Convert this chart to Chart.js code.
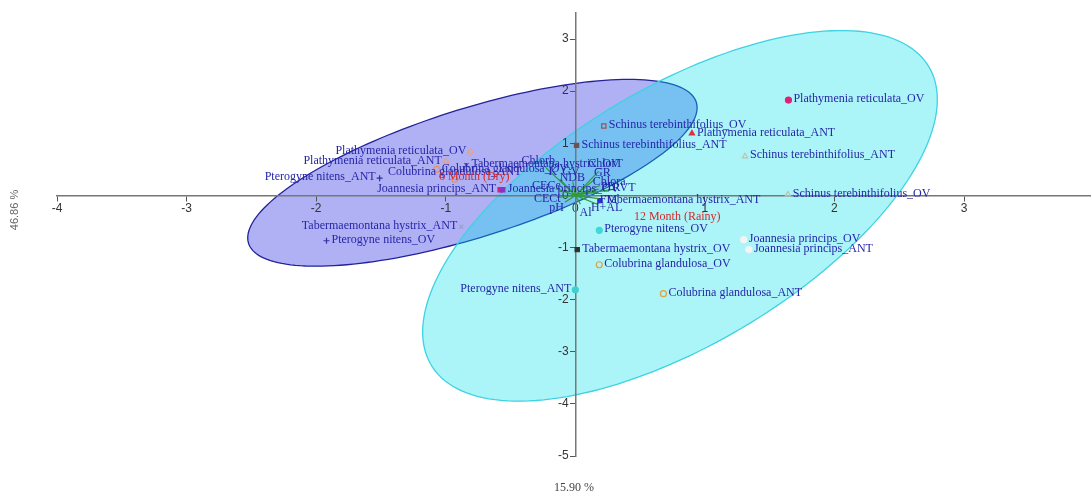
<!DOCTYPE html>
<html>
<head>
<meta charset="utf-8">
<script src="https://cdn.jsdelivr.net/npm/chart.js@4.4.1/dist/chart.umd.min.js"></script>
<style>
  html, body { margin: 0; padding: 0; background: #ffffff; }
  #wrap { position: relative; width: 1091px; height: 492px; }
</style>
</head>
<body>
<div id="wrap"><canvas id="biplot" width="1091" height="492"></canvas></div>
<script>
// ---- Observations, 6 month (dry season) ----
const dryNames = [
  'Plathymenia reticulata_OV', 'Plathymenia reticulata_ANT',
  'Pterogyne nitens_ANT', 'Pterogyne nitens_OV',
  'Tabermaemontana hystrix_ANT', 'Tabermaemontana hystrix_OV',
  'Colubrina glandulosa_ANT', 'Colubrina glandulosa_OV',
  'Joannesia princips_ANT', 'Joannesia princips_OV',
  'Schinus terebinthifolius_OV', 'Schinus terebinthifolius_ANT'
];
const dryX = [-0.81, -1.00, -1.51, -1.92, -0.88, -0.84, -0.93, -1.07, -0.58, -0.56, 0.22, 0.01];
const dryY = [0.83, 0.65, 0.33, -0.87, -0.60, 0.58, 0.31, 0.50, 0.11, 0.11, 1.33, 0.96];

// ---- Observations, 12 month (rainy season) ----
const rainyNames = [
  'Plathymenia reticulata_OV', 'Plathymenia reticulata_ANT',
  'Schinus terebinthifolius_ANT', 'Schinus terebinthifolius_OV',
  'Tabermaemontana hystrix_ANT', 'Pterogyne nitens_OV',
  'Tabermaemontana hystrix_OV', 'Colubrina glandulosa_OV',
  'Colubrina glandulosa_ANT', 'Pterogyne nitens_ANT',
  'Joannesia princips_OV', 'Joannesia princips_ANT'
];
const rainyX = [1.645, 0.90, 1.31, 1.64, 0.19, 0.185, 0.015, 0.185, 0.68, 0.0, 1.30, 1.34];
const rainyY = [1.83, 1.19, 0.75, 0.02, -0.10, -0.67, -1.04, -1.33, -1.885, -1.81, -0.85, -1.04];

// ---- Variables (loadings) ----
const varNames = ['Chlorb', 'ChlorT', 'K', 'GV', 'GR', 'Chlora', 'PB', 'RVT', 'NDB', 'CECe', 'CECt', 'pH', 'Al', 'H+AL', 'FM'];
const varX = [-0.23, 0.18, -0.12, -0.02, 0.15, 0.19, 0.18, 0.30, -0.01, -0.15, -0.14, -0.08, 0.04, 0.17, 0.18];
const varY = [0.54, 0.46, 0.31, 0.27, 0.31, 0.19, 0.12, 0.12, 0.15, 0.13, -0.04, -0.13, -0.17, -0.17, -0.06];

// ---- Group centroids ----
const groupNames = ['6 Month (Dry)', '12 Month (Rainy)'];
const groupX = [-0.78, 0.787];
const groupY = [0.36, -0.41];

// ---- Confidence ellipses: centre, semi-diameter to the rightmost point, vertical half-chord ----
const ellipseCX = [-0.794, 0.808];
const ellipseCY = [0.434, -0.392];
const ellipseUX = [1.734, 1.986];
const ellipseUY = [1.248, 2.230];
const ellipseV = [1.286, 2.770];

// ---- Axes ----
const xRange = [-4, 3.98];
const yRange = [-5, 3.5];
const axisTitles = ['15.90 %', '46.86 %'];

// ---- Styles ----
const SERIF = '"Liberation Serif", "Times New Roman", serif';
const SANS = '"Liberation Sans", Arial, sans-serif';
const labelColor = '#2626a8';

const dryStyle  = ['rectRot', 'rectRot', 'cross', 'cross', 'crossRot', 'crossRot', 'circle', 'circle', 'rect', 'rect', 'rect', 'rect'];
const dryStroke = ['#f0a070', '#f0a070', '#3030a0', '#3030a0', '#9aa0c8', '#5050a0', '#f09050', '#f09050', '#d0208a', '#9030c0', '#a05050', '#705050'];
const dryFill   = ['rgba(0,0,0,0)', 'rgba(0,0,0,0)', '#3030a0', '#3030a0', '#9aa0c8', '#5050a0', 'rgba(0,0,0,0)', 'rgba(0,0,0,0)', '#d0208a', '#9030c0', 'rgba(0,0,0,0)', '#705050'];
const dryLabelSide = ['l', 'l', 'l', 'r', 'l', 'r', 'c', 'r', 'l', 'r', 'r', 'r'];

const rainyStyle  = ['circle', 'triangle', 'triangle', 'triangle', 'rect', 'circle', 'rect', 'circle', 'circle', 'circle', 'circle', 'circle'];
const rainyStroke = ['#e0207a', '#e03040', '#b8c4b0', '#b8c4b0', '#3030d0', '#40d8d8', '#303030', '#e0a040', '#e0a040', '#40d0d0', '#f4f4f4', '#f4f4f4'];
const rainyFill   = ['#e0207a', '#e03040', 'rgba(0,0,0,0)', 'rgba(0,0,0,0)', '#3030d0', '#40d8d8', '#303030', 'rgba(0,0,0,0)', 'rgba(0,0,0,0)', '#40d0d0', '#f4f4f4', '#f4f4f4'];
const rainyLabelSide = ['r', 'r', 'r', 'r', 'r', 'r', 'r', 'r', 'r', 'l', 'r', 'r'];

const ellipseFill = ['rgba(80,80,232,0.45)', 'rgba(0,226,236,0.33)'];
const ellipseStroke = ['#22229a', '#3ed2e2'];

const toPoints = (xs, ys) => xs.map((x, i) => ({ x, y: ys[i] }));

// loading segments: origin -> tip, separated by gaps
const varSegments = [];
varX.forEach((x, i) => {
  varSegments.push({ x: 0, y: 0 }, { x, y: varY[i] }, { x: null, y: null });
});

// Confidence ellipses, drawn under the axes
const ellipsePlugin = {
  id: 'ellipses',
  beforeDraw(chart) {
    const { ctx, scales: { x: sx, y: sy } } = chart;
    ctx.save();
    for (let k = 0; k < ellipseCX.length; k++) {
      const cx = sx.getPixelForValue(ellipseCX[k]);
      const cy = sy.getPixelForValue(ellipseCY[k]);
      const ux = sx.getPixelForValue(ellipseCX[k] + ellipseUX[k]) - cx;
      const uy = sy.getPixelForValue(ellipseCY[k] + ellipseUY[k]) - cy;
      const vy = sy.getPixelForValue(ellipseCY[k] - ellipseV[k]) - cy;
      ctx.beginPath();
      const n = 180;
      for (let i = 0; i <= n; i++) {
        const t = (i / n) * Math.PI * 2;
        const px = cx + Math.cos(t) * ux;
        const py = cy + Math.cos(t) * uy + Math.sin(t) * vy;
        if (i === 0) ctx.moveTo(px, py); else ctx.lineTo(px, py);
      }
      ctx.closePath();
      ctx.fillStyle = ellipseFill[k];
      ctx.fill();
      ctx.lineWidth = 1.3;
      ctx.strokeStyle = ellipseStroke[k];
      ctx.stroke();
    }
    ctx.restore();
  }
};

// Point labels, variable labels, centroid labels and axis titles
const labelPlugin = {
  id: 'labels',
  afterDatasetsDraw(chart) {
    const { ctx, scales: { x: sx, y: sy } } = chart;
    ctx.save();
    ctx.textBaseline = 'middle';
    ctx.font = '12px ' + SERIF;
    ctx.fillStyle = labelColor;

    const drawObs = (names, xs, ys, sides) => {
      names.forEach((name, i) => {
        const px = sx.getPixelForValue(xs[i]);
        const py = sy.getPixelForValue(ys[i]);
        const side = sides[i];
        if (side === 'l') { ctx.textAlign = 'right'; ctx.fillText(name, px - 4, py - 1); }
        else if (side === 'c') { ctx.textAlign = 'center'; ctx.fillText(name, px, py - 7); }
        else { ctx.textAlign = 'left'; ctx.fillText(name, px + 5, py - 1); }
      });
    };
    drawObs(dryNames, dryX, dryY, dryLabelSide);
    drawObs(rainyNames, rainyX, rainyY, rainyLabelSide);

    const ox = sx.getPixelForValue(0), oy = sy.getPixelForValue(0);
    ctx.textAlign = 'center';
    varNames.forEach((name, i) => {
      const px = sx.getPixelForValue(varX[i]);
      const py = sy.getPixelForValue(varY[i]);
      const dx = px - ox, dy = py - oy;
      const len = Math.hypot(dx, dy) || 1;
      ctx.fillText(name, px + dx / len * 10, py + dy / len * 10);
    });

    ctx.fillStyle = '#d42a2a';
    groupNames.forEach((name, i) => {
      ctx.fillText(name, sx.getPixelForValue(groupX[i]), sy.getPixelForValue(groupY[i]));
    });

    // axis titles
    ctx.fillStyle = '#444';
    ctx.font = '12px ' + SERIF;
    ctx.fillText(axisTitles[0], (chart.chartArea.left + chart.chartArea.right) / 2, 488);
    ctx.translate(15, 210);
    ctx.rotate(-Math.PI / 2);
    ctx.font = '11px ' + SANS;
    ctx.fillStyle = '#666';
    ctx.fillText(axisTitles[1], 0, 0);
    ctx.restore();
  }
};

new Chart(document.getElementById('biplot'), {
  type: 'scatter',
  data: {
    datasets: [
      {
        label: 'Variables',
        data: varSegments,
        showLine: true,
        spanGaps: false,
        borderColor: '#2f9a3a',
        borderWidth: 1.2,
        pointRadius: 0
      },
      {
        label: '6 Month (Dry)',
        data: toPoints(dryX, dryY),
        pointStyle: dryStyle,
        pointRadius: 3,
        borderWidth: 1.2,
        borderColor: dryStroke,
        backgroundColor: dryFill
      },
      {
        label: '12 Month (Rainy)',
        data: toPoints(rainyX, rainyY),
        pointStyle: rainyStyle,
        pointRadius: 3,
        borderWidth: 1.2,
        borderColor: rainyStroke,
        backgroundColor: rainyFill
      }
    ]
  },
  options: {
    responsive: false,
    animation: false,
    events: [],
    layout: { autoPadding: false, padding: { left: 57, right: 0, top: 13, bottom: 36 } },
    plugins: { legend: { display: false }, tooltip: { enabled: false } },
    scales: {
      x: {
        type: 'linear',
        min: xRange[0],
        max: xRange[1],
        position: { y: 0 },
        afterFit(s) { s.height = 0; },
        border: { color: '#777', width: 1.5 },
        grid: { drawOnChartArea: false, drawTicks: true, tickLength: 5, color: '#555' },
        ticks: { stepSize: 1, includeBounds: false, color: '#333', padding: 1, font: { family: SANS, size: 12 } }
      },
      y: {
        type: 'linear',
        min: yRange[0],
        max: yRange[1],
        position: { x: 0 },
        afterFit(s) { s.width = 0; },
        border: { color: '#777', width: 1.5 },
        grid: { drawOnChartArea: false, drawTicks: true, tickLength: 5, color: '#555' },
        ticks: {
          stepSize: 1, includeBounds: false, color: '#333', font: { family: SANS, size: 12 },
          callback: (v) => v + '  '
        }
      }
    }
  },
  plugins: [ellipsePlugin, labelPlugin]
});
</script>
</body>
</html>
